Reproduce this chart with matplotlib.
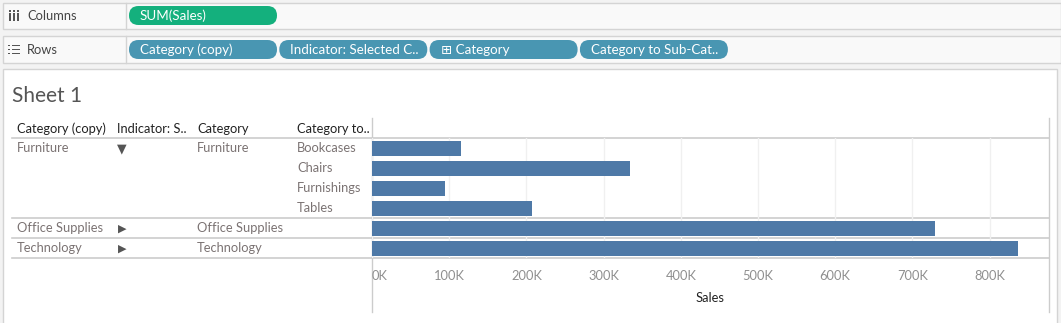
import matplotlib
matplotlib.use("Agg")
import matplotlib.pyplot as plt
from matplotlib.patches import FancyBboxPatch, Rectangle
from matplotlib.ticker import FuncFormatter

plt.rcParams['font.family'] = ['Lato', 'DejaVu Sans']

# ---- data ----
category_copy = ["Furniture", "", "", "", "Office Supplies", "Technology"]
indicator = ["\u25BC", "", "", "", "\u25B6", "\u25B6"]
category = ["Furniture", "", "", "", "Office Supplies", "Technology"]
sub_category = ["Bookcases", "Chairs", "Furnishings", "Tables", "", ""]
sales = [115000, 334000, 95000, 207000, 729000, 837000]
header_labels = ["Category (copy)", "Indicator: S..", "Category", "Category to.."]
column_pills = ["SUM(Sales)"]
row_pills = ["Category (copy)", "Indicator: Selected C..", "\u229E Category", "Category to Sub-Cat.."]
x_ticks = [0, 100000, 200000, 300000, 400000, 500000, 600000, 700000, 800000]
x_max = 877000

W, H = 1061, 323
fig = plt.figure(figsize=(W / 100, H / 100), dpi=100)
fig.patch.set_facecolor("#f3f3f3")

# Background canvas in pixel coordinates
bg = fig.add_axes([0, 0, 1, 1])
bg.set_xlim(0, W)
bg.set_ylim(H, 0)
bg.axis("off")

SHELF_EDGE = "#d4d4d4"
TEXT_GRAY = "#7b7373"
GREEN = "#14b07d"
TEAL = "#4996b2"
FS = 9.3

def shelf(y0, y1, label, icon):
    bg.add_patch(Rectangle((3, y0), W - 3, y1 - y0, facecolor="#f9f9f9",
                           edgecolor=SHELF_EDGE, lw=1))
    bg.plot([126, 126], [y0, y1], color=SHELF_EDGE, lw=1)
    bg.text(27, (y0 + y1) / 2, label, fontsize=FS, color="#444444",
            va="center", ha="left")
    icon((y0 + y1) / 2)

def col_icon(yc):
    for dx in (0, 4, 8):
        bg.add_patch(Rectangle((9 + dx, yc - 3), 1.6, 8, color="#555555", lw=0))
        bg.add_patch(Rectangle((9 + dx, yc - 6), 1.6, 1.6, color="#555555", lw=0))

def row_icon(yc):
    for dy in (-4, 0, 4):
        bg.add_patch(Rectangle((8, yc + dy - 0.8), 2, 1.8, color="#555555", lw=0))
        bg.add_patch(Rectangle((11.5, yc + dy - 0.8), 8, 1.8, color="#555555", lw=0))

shelf(3, 29, "Columns", col_icon)
shelf(36, 63, "Rows", row_icon)

def pill(x0, x1, yc, text, color):
    h = 19
    bg.add_patch(FancyBboxPatch((x0, yc - h / 2), x1 - x0, h,
                                boxstyle="round,pad=0,rounding_size=9.5",
                                facecolor=color, edgecolor="none"))
    bg.text(x0 + 11, yc + 0.5, text, fontsize=9.6, color="white",
            va="center", ha="left")

for i, t in enumerate(column_pills):
    pill(129 + i * 150, 277 + i * 150, 15.5, t, GREEN)
for i, t in enumerate(row_pills):
    pill(129 + i * 150.3, 277 + i * 150.3, 49.5, t, TEAL)

# Sheet area
bg.add_patch(Rectangle((3, 69), 1054, 260, facecolor="white",
                       edgecolor=SHELF_EDGE, lw=1))
bg.text(12, 96, "Sheet 1", fontsize=15, color="#555555", va="center",
        ha="left")

# Column headers
header_x = [17, 117, 197, 297]
for x, t in zip(header_x, header_labels):
    bg.text(x, 129, t, fontsize=FS, color="#222222", va="center", ha="left")

# Row layout
row_top, row_h = 138, 20
n = len(sales)
for i in range(n):
    yc = row_top + row_h * i + row_h / 2 + 0.5
    if category_copy[i]:
        bg.text(17, yc, category_copy[i], fontsize=FS, color=TEXT_GRAY,
                va="center", ha="left")
    if indicator[i]:
        size = 9 if indicator[i] == "\u25BC" else 8
        bg.text(122, yc, indicator[i], fontsize=size, color="#555555",
                va="center", ha="center", family="DejaVu Sans")
    if category[i]:
        bg.text(197, yc, category[i], fontsize=FS, color=TEXT_GRAY,
                va="center", ha="left")
    if sub_category[i]:
        bg.text(297, yc, sub_category[i], fontsize=FS, color=TEXT_GRAY,
                va="center", ha="left")

# Horizontal separators between header and category groups
for y in (138, 218, 238, 258):
    bg.plot([12, 1049], [y, y], color="#cccccc", lw=1.2, zorder=5)
bg.plot([372, 372], [118, 312], color="#cccccc", lw=1)
bg.plot([1049, 1049], [118, 312], color="#cccccc", lw=1)

# Bar pane
px0, px1, py0, py1 = 372, 1049, 138, 258
ax = fig.add_axes([px0 / W, 1 - py1 / H, (px1 - px0) / W, (py1 - py0) / H])
ax.set_facecolor("none")
ypos = list(range(n))
ax.barh(ypos, sales, height=0.75, color="#4e79a7", zorder=3)
ax.set_ylim(n - 0.5, -0.5)
ax.set_xlim(0, x_max)
ax.set_xticks(x_ticks)
ax.xaxis.set_major_formatter(FuncFormatter(lambda v, p: f"{int(v / 1000)}K"))
ax.grid(axis="x", color="#f0f0f0", lw=1, zorder=0)
ax.set_yticks([])
for s in ax.spines.values():
    s.set_visible(False)
ax.tick_params(axis="x", length=0, pad=9, labelsize=FS, labelcolor="#8f8f8f")
for lbl in ax.get_xticklabels():
    if lbl.get_text() == "0K":
        lbl.set_horizontalalignment("left")
ax.set_xlabel("Sales", fontsize=FS, color="#222222", labelpad=7)

fig.savefig("out.png", dpi=100, facecolor=fig.get_facecolor())
